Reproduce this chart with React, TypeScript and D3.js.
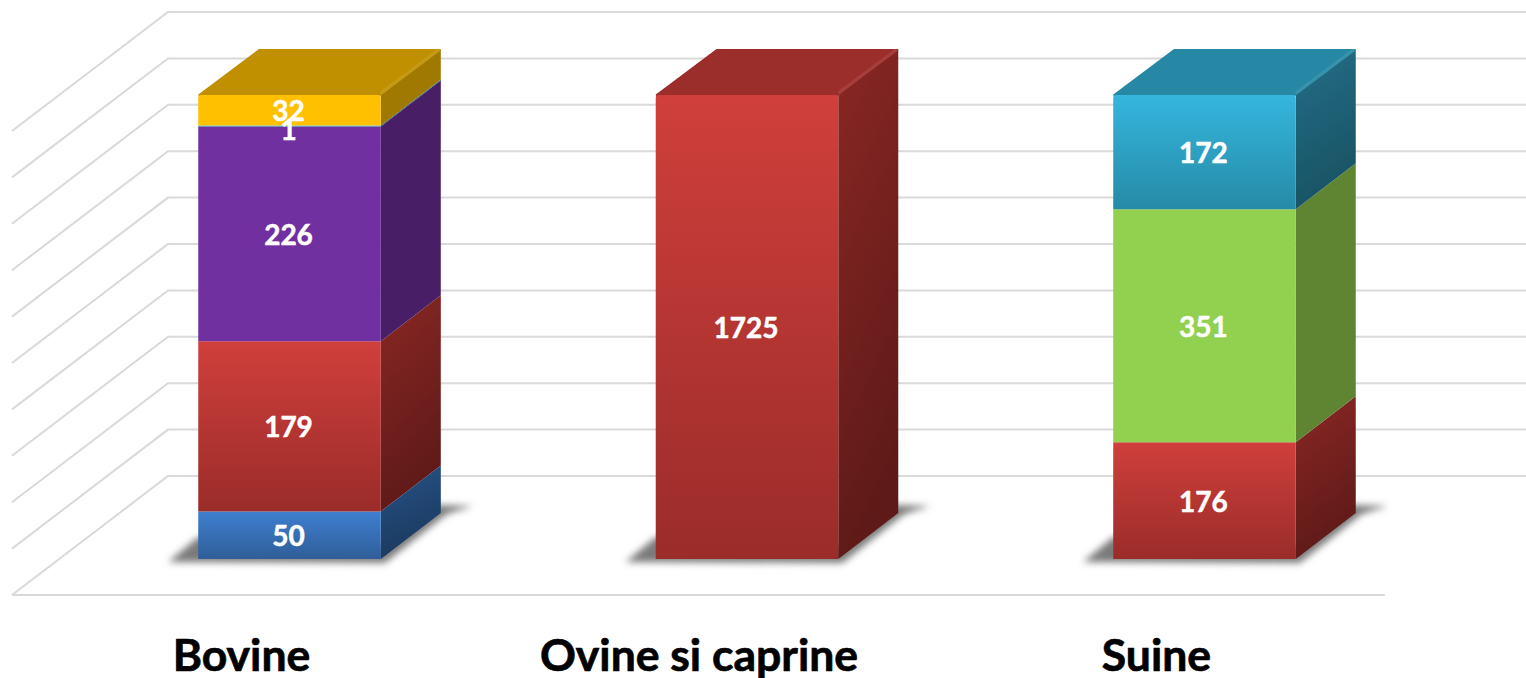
import * as d3 from "d3";

const categories = ["Bovine", "Ovine si caprine", "Suine"];

// one series per colour, values read from the data labels (0 = no segment)
const seriesNames = ["blue", "red", "green", "purple", "aqua", "orange"];
const blueValues = [50, 0, 0];
const redValues = [179, 1725, 176];
const greenValues = [0, 0, 351];
const purpleValues = [226, 0, 0];
const aquaValues = [1, 0, 172];
const orangeValues = [32, 0, 0];
const seriesValues = [blueValues, redValues, greenValues, purpleValues, aquaValues, orangeValues];

const frontTop = ["#3e7fd0", "#d03f3b", "#92d050", "#7030a0", "#35b6de", "#ffc000"];
const frontBottom = ["#2f5e98", "#9a2c2a", "#92d050", "#7030a0", "#268aa6", "#ffc000"];
const sideTop = ["#265286", "#8a2724", "#5f8532", "#481f66", "#246e88", "#a07a00"];
const sideBottom = ["#1b3a5f", "#5e1a18", "#5f8532", "#481f66", "#185363", "#a07a00"];
const topFace = ["#2f5e98", "#9b2d2a", "#6f9c3c", "#54247a", "#2688a4", "#c09000"];

const percentTicks = d3.range(0, 1.01, 0.1);

const WIDTH = 1526;
const HEIGHT = 678;
// offset of the bar's depth, and of the back wall from the bar's front plane
const DEPTH_X = 60;
const DEPTH_Y = 46;
const WALL_X = 168;
const WALL_RIGHT = 1526;
const WALL_SHIFT = 83;
const FLOOR_X = 12;
const FLOOR_RIGHT = 1385;
const FLOOR_DROP = 119;

const rows = categories.map((c, i) => {
    const row: any = { category: c };
    seriesNames.forEach((s, j) => { row[s] = seriesValues[j][i]; });
    return row;
});

// 100% stacked columns
const stacked = d3.stack().keys(seriesNames).offset(d3.stackOffsetExpand)(rows);

const xScale = d3.scaleBand().domain(categories).range([61, 1433]).paddingInner(0.601).paddingOuter(0.3);
const yScale = d3.scaleLinear().domain([0, 1]).range([559, 95]);

function poly(points: number[][]) {
    const p = d3.path();
    points.forEach((pt, i) => (i === 0 ? p.moveTo(pt[0], pt[1]) : p.lineTo(pt[0], pt[1])));
    p.closePath();
    return p.toString();
}

// front face with only the upper corners rounded
function frontPath(x0: number, x1: number, yTop: number, yBot: number, r: number) {
    const p = d3.path();
    p.moveTo(x0, yBot);
    p.lineTo(x0, yTop + r);
    p.arcTo(x0, yTop, x0 + r, yTop, r);
    p.lineTo(x1 - r, yTop);
    p.arcTo(x1, yTop, x1, yTop + r, r);
    p.lineTo(x1, yBot);
    p.closePath();
    return p.toString();
}

export default function App() {
    const bw = xScale.bandwidth();
    const base = yScale(0);

    return (
        <svg width={WIDTH} height={HEIGHT} style={{ position: "absolute", left: 0, top: 0, background: "#fff" }}>
            <defs>
                {seriesNames.map((s, i) => (
                    <linearGradient key={s} id={`front-${i}`} x1="0" y1="0" x2="0" y2="1">
                        <stop offset="0%" stopColor={frontTop[i]} />
                        <stop offset="100%" stopColor={frontBottom[i]} />
                    </linearGradient>
                ))}
                {seriesNames.map((s, i) => (
                    <linearGradient key={s} id={`side-${i}`} x1="0" y1="0" x2="0.25" y2="1">
                        <stop offset="0%" stopColor={sideTop[i]} />
                        <stop offset="100%" stopColor={sideBottom[i]} />
                    </linearGradient>
                ))}
                <filter id="shadow-blur" x="-20%" y="-40%" width="140%" height="180%">
                    <feGaussianBlur stdDeviation="3.5" />
                </filter>
            </defs>

            {/* back wall, side wall and floor gridlines */}
            <g stroke="#d9d9d9" strokeWidth={2} fill="none">
                {percentTicks.map((t) => {
                    const y = yScale(t) - WALL_SHIFT;
                    return (
                        <path key={t} d={`M${FLOOR_X},${y + FLOOR_DROP}L${WALL_X},${y}L${WALL_RIGHT},${y}`} />
                    );
                })}
                <line x1={FLOOR_X} x2={FLOOR_RIGHT} y1={base - WALL_SHIFT + FLOOR_DROP} y2={base - WALL_SHIFT + FLOOR_DROP} />
            </g>

            {/* soft shadows on the floor */}
            {categories.map((c) => {
                const x0 = xScale(c)!;
                const x1 = x0 + bw;
                return (
                    <path
                        key={c}
                        filter="url(#shadow-blur)"
                        fill="#7a7a7a"
                        d={poly([
                            [x0 - 30, base + 3],
                            [x1 + 4, base + 4],
                            [x1 + DEPTH_X + 6, base - DEPTH_Y + 1],
                            [x1 + DEPTH_X + 32, base - DEPTH_Y - 7],
                            [x1 + DEPTH_X - 6, base - DEPTH_Y - 8],
                            [x1, base - 12],
                            [x0, base - 22],
                        ])}
                    />
                );
            })}

            {/* bars */}
            {stacked.map((layer, si) =>
                layer.map((d: any) => {
                    if (d[1] - d[0] <= 0) return null;
                    const c = d.data.category;
                    const x0 = xScale(c)!;
                    const x1 = x0 + bw;
                    const yTop = yScale(d[1]);
                    const yBot = yScale(d[0]);
                    const isTop = d[1] >= 0.9999;
                    return (
                        <g key={`${c}-${si}`}>
                            <path
                                fill={`url(#side-${si})`}
                                d={poly([
                                    [x1, yTop],
                                    [x1 + DEPTH_X, yTop - DEPTH_Y],
                                    [x1 + DEPTH_X, yBot - DEPTH_Y],
                                    [x1, yBot],
                                ])}
                            />
                            {isTop && (
                                <g>
                                    <path
                                        fill={topFace[si]}
                                        stroke={topFace[si]}
                                        strokeWidth={2}
                                        strokeLinejoin="round"
                                        d={poly([
                                            [x0 + 1, yTop],
                                            [x0 + DEPTH_X + 1, yTop - DEPTH_Y + 1],
                                            [x1 + DEPTH_X - 1, yTop - DEPTH_Y + 1],
                                            [x1 - 1, yTop],
                                        ])}
                                    />
                                    {/* light bevel on the top face's right edge */}
                                    <line
                                        x1={x1}
                                        y1={yTop - 2}
                                        x2={x1 + DEPTH_X - 1}
                                        y2={yTop - DEPTH_Y}
                                        stroke="#fff"
                                        strokeOpacity={0.09}
                                        strokeWidth={3}
                                    />
                                </g>
                            )}
                            <path
                                d={frontPath(x0, x1, yTop, Math.max(yBot, yTop + 1), isTop ? 3 : 0)}
                                fill={`url(#front-${si})`}
                            />
                        </g>
                    );
                })
            )}

            {/* data labels */}
            <g fill="#fff" stroke="#fff" strokeWidth={0.5} fontFamily="Lato" fontWeight={700} fontSize={28} textAnchor="middle">
                {stacked.map((layer, si) =>
                    layer.map((d: any, i: number) => {
                        const v = seriesValues[si][i];
                        if (!v) return null;
                        const c = d.data.category;
                        // the tiny "1" segment label sits a little lower so it clears "32"
                        const nudge = v === 1 ? 3 : 0;
                        const y = yScale((d[0] + d[1]) / 2) + nudge;
                        return (
                            <text key={`${c}-${si}`} x={xScale(c)! + bw / 2 - 1} y={y} dominantBaseline="central">
                                {v}
                            </text>
                        );
                    })
                )}
            </g>

            {/* category labels, centred on the floor rather than the bar */}
            <g fill="#000" stroke="#000" strokeWidth={0.7} fontFamily="Lato" fontWeight={700} fontSize={44.5} textAnchor="middle">
                {categories.map((c) => (
                    <text key={c} x={xScale(c)! + bw / 2 - 48} y={671}>
                        {c}
                    </text>
                ))}
            </g>
        </svg>
    );
}
